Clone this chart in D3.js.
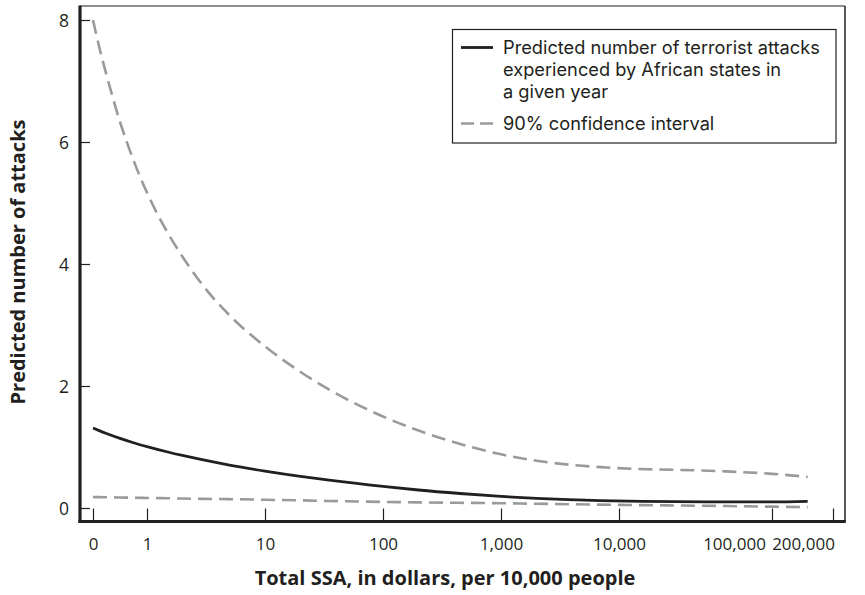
<!DOCTYPE html>
<html>
<head>
<meta charset="utf-8">
<script src="https://cdn.jsdelivr.net/npm/d3@7/dist/d3.min.js"></script>
<style>
  html, body { margin: 0; padding: 0; background: #fff; }
  svg { display: block; }
  text { font-family: "Open Sans", "Noto Sans", sans-serif; fill: #231f20; }
  .legend text { font-family: Inter, "Open Sans", sans-serif; }
</style>
</head>
<body>
<svg id="chart" width="865" height="595"></svg>
<script>
// Total SSA (dollars per 10,000 people) at which each curve is evaluated
const ssa = [0, 0.125, 0.25, 0.5, 0.75, 1, 1.5, 2, 3, 5, 10, 20, 35, 100, 200, 450, 1000, 2000, 7000, 50000, 100000, 150000];
// Predicted number of attacks
const predicted = [1.311, 1.265, 1.221, 1.141, 1.070, 1.007, 0.918, 0.861, 0.787, 0.703, 0.605, 0.518, 0.456, 0.354, 0.295, 0.238, 0.190, 0.157, 0.121, 0.101, 0.100, 0.110];
// 90% confidence interval bounds
const upperCI = [8.00, 7.52, 7.10, 6.33, 5.70, 5.17, 4.51, 4.12, 3.64, 3.16, 2.65, 2.23, 1.94, 1.50, 1.27, 1.05, 0.88, 0.775, 0.67, 0.60, 0.56, 0.51];
const lowerCI = [0.18, 0.178, 0.176, 0.172, 0.168, 0.165, 0.16, 0.155, 0.15, 0.145, 0.135, 0.125, 0.115, 0.10, 0.092, 0.085, 0.078, 0.07, 0.055, 0.032, 0.022, 0.015];

const xTickValues = [0, 1, 10, 100, 1000, 10000, 100000, 200000];
const xTickLabels = ["0", "1", "10", "100", "1,000", "10,000", "100,000", "200,000"];
const yTickValues = [0, 2, 4, 6, 8];

const legendLabels = [
  ["Predicted number of terrorist attacks", "experienced by African states in", "a given year"],
  ["90% confidence interval"]
];
const xTitle = "Total SSA, in dollars, per 10,000 people";
const yTitle = "Predicted number of attacks";

// ---- layout ----
const frame = { left: 80, right: 845, top: 6, bottom: 521.5 };
const ink = "#231f20";
const grey = "#999a9c";

const svg = d3.select("#chart");

// The horizontal axis runs linearly from 0 to 1 and logarithmically above 1;
// each tick value is pinned to its own position along the axis.
const u = v => (v < 1 ? v : 1 + Math.log10(v));
const xPiece = d3.scaleLinear()
  .domain(xTickValues.map(u))
  .range([93, 147, 265, 383, 501, 619, 772, 833]);
const x = v => xPiece(u(v));

const y = d3.scaleLinear().domain([0, 8]).range([508, 20]);

// frame: thin top/right, heavy left/bottom
svg.append("line").attr("x1", frame.left).attr("x2", frame.right)
  .attr("y1", frame.top).attr("y2", frame.top)
  .attr("stroke", ink).attr("stroke-width", 1.2);
svg.append("line").attr("x1", frame.right).attr("x2", frame.right)
  .attr("y1", frame.top).attr("y2", frame.bottom)
  .attr("stroke", ink).attr("stroke-width", 1.5);

// y axis (ticks point into the plot)
const yAxis = d3.axisRight(y).tickValues(yTickValues).tickSize(10).tickFormat(d3.format("d"));
const gy = svg.append("g").attr("transform", `translate(${frame.left},0)`).call(yAxis);
gy.select(".domain").remove();
gy.selectAll(".tick line").attr("stroke", ink).attr("stroke-width", 1.2);
gy.selectAll(".tick text")
  .attr("x", -11).attr("text-anchor", "end").attr("dy", "0.36em")
  .style("font-size", "17.5px").style("fill", ink);

// x axis (ticks point up into the plot)
const xAxis = d3.axisTop(xPiece)
  .tickValues(xTickValues.map(u))
  .tickSize(13)
  .tickFormat((d, i) => xTickLabels[i]);
const gx = svg.append("g").attr("transform", `translate(0,${frame.bottom})`).call(xAxis);
gx.select(".domain").remove();
gx.selectAll(".tick line").attr("stroke", ink).attr("stroke-width", 1.2);
// the two crowded labels at the right end sit to the left of their ticks
const labelShift = { "100,000": -38, "200,000": -30 };
gx.selectAll(".tick text")
  .attr("y", 28).attr("dy", 0)
  .attr("dx", (d, i) => labelShift[xTickLabels[i]] || 0)
  .style("font-size", "17px").style("fill", ink);

// heavy axis lines
svg.append("line").attr("x1", frame.left).attr("x2", frame.left)
  .attr("y1", frame.top - 0.5).attr("y2", frame.bottom + 1.5)
  .attr("stroke", ink).attr("stroke-width", 3.2);
svg.append("line").attr("x1", frame.left - 1.5).attr("x2", frame.right + 0.8)
  .attr("y1", frame.bottom).attr("y2", frame.bottom)
  .attr("stroke", ink).attr("stroke-width", 3.2);

// curves
const line = d3.line().x(d => x(d[0])).y(d => y(d[1])).curve(d3.curveMonotoneX);
const series = [
  { values: upperCI, color: grey, width: 2.6, dash: "14,7" },
  { values: lowerCI, color: grey, width: 2.6, dash: "14,7" },
  { values: predicted, color: ink, width: 2.8, dash: null }
];
svg.append("g").selectAll("path").data(series).join("path")
  .attr("d", s => line(ssa.map((v, i) => [v, s.values[i]])))
  .attr("fill", "none")
  .attr("stroke", s => s.color)
  .attr("stroke-width", s => s.width)
  .attr("stroke-dasharray", s => s.dash);

// legend
const lg = svg.append("g").attr("class", "legend");
lg.append("rect").attr("x", 452.5).attr("y", 29.5).attr("width", 383.5).attr("height", 113.5)
  .attr("fill", "#fff").attr("stroke", ink).attr("stroke-width", 1.2);
lg.append("line").attr("x1", 461).attr("x2", 493).attr("y1", 47.5).attr("y2", 47.5)
  .attr("stroke", ink).attr("stroke-width", 2.8);
lg.append("line").attr("x1", 461).attr("x2", 493).attr("y1", 123.5).attr("y2", 123.5)
  .attr("stroke", grey).attr("stroke-width", 2.6).attr("stroke-dasharray", "13,6");

// size the legend type so the longest line spans the box's text column
const probe = lg.append("text").style("font-size", "18px").text(legendLabels[0][0]);
const legendSize = Math.min(18 * 317 / probe.node().getComputedTextLength(), 19);
probe.remove();
const lineStep = Math.max(21.5, legendSize * 1.22);

legendLabels[0].forEach((t, i) => {
  lg.append("text").attr("x", 503).attr("y", 54 + i * lineStep)
    .style("font-size", legendSize + "px").text(t);
});
lg.append("text").attr("x", 503).attr("y", 130).style("font-size", legendSize + "px").text(legendLabels[1][0]);

// axis titles
svg.append("text").attr("x", 445).attr("y", 585).attr("text-anchor", "middle")
  .style("font-size", "20px").style("font-weight", "bold").text(xTitle);
svg.append("text").attr("transform", `translate(25,262) rotate(-90)`).attr("text-anchor", "middle")
  .style("font-size", "20px").style("font-weight", "bold").text(yTitle);
</script>
</body>
</html>
